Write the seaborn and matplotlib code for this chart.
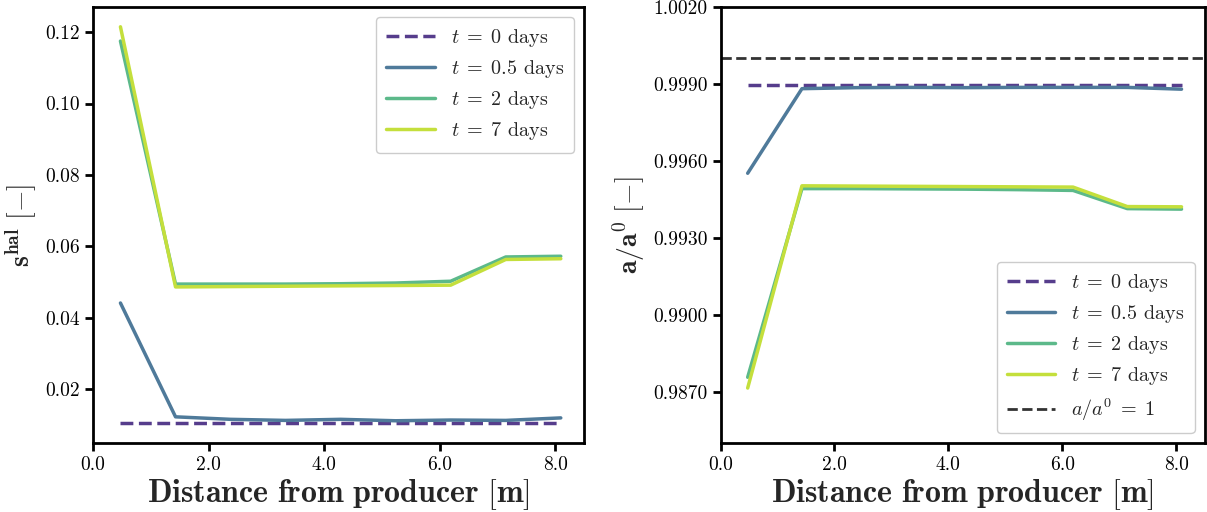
import numpy as np
import pandas as pd
import matplotlib
matplotlib.use("Agg")
import matplotlib.pyplot as plt
import seaborn as sns
from matplotlib.ticker import FormatStrFormatter, FixedLocator

# ---- data ----
distance = [0.476, 1.429, 2.381, 3.333, 4.286, 5.238, 6.190, 7.143, 8.095]
labels = [r"$t\;=\;0$ days", r"$t\;=\;0.5$ days", r"$t\;=\;2$ days", r"$t\;=\;7$ days"]

s_t0 = [0.0105] * 9
s_t05 = [0.0441, 0.0122, 0.0115, 0.0112, 0.0115, 0.0111, 0.0113, 0.0112, 0.0119]
s_t2 = [0.1175, 0.0494, 0.0494, 0.0494, 0.0495, 0.0497, 0.0502, 0.0570, 0.0572]
s_t7 = [0.1215, 0.0486, 0.0487, 0.0488, 0.0489, 0.0490, 0.0491, 0.0563, 0.0565]

a_t0 = [0.99895] * 9
a_t05 = [0.99552, 0.99882, 0.99886, 0.99887, 0.99886, 0.99887, 0.99887, 0.99887, 0.99880]
a_t2 = [0.98756, 0.99492, 0.99492, 0.99491, 0.99490, 0.99488, 0.99485, 0.99414, 0.99412]
a_t7 = [0.98714, 0.99503, 0.99502, 0.99501, 0.99500, 0.99499, 0.99498, 0.99422, 0.99421]
a_ref = 1.0

x_ticks = [0.0, 2.0, 4.0, 6.0, 8.0]
s_ticks = [0.02, 0.04, 0.06, 0.08, 0.10, 0.12]
a_ticks = [0.9870, 0.9900, 0.9930, 0.9960, 0.9990, 1.0020]

colors = ["#563d8c", "#4f7a9a", "#5cb98a", "#c4df3c"]
styles = ["--", "-", "-", "-"]

sns.set_style("ticks")
plt.rcParams.update({
    "font.family": "serif",
    "font.serif": ["cmr10", "DejaVu Serif"],
    "mathtext.fontset": "cm",
    "axes.formatter.use_mathtext": True,
    "axes.unicode_minus": False,
    "axes.edgecolor": "black",
    "axes.linewidth": 2.0,
    "xtick.color": "black",
    "ytick.color": "black",
    "xtick.major.width": 2.0,
    "ytick.major.width": 2.0,
    "xtick.major.size": 6,
    "ytick.major.size": 6,
})

fig = plt.figure(figsize=(12.07, 5.12), dpi=100)
ax1 = fig.add_axes([0.077, 0.135, 0.407, 0.851])
ax2 = fig.add_axes([0.597, 0.135, 0.401, 0.851])

for vals, lab, c, ls in zip([s_t0, s_t05, s_t2, s_t7], labels, colors, styles):
    sns.lineplot(x=distance, y=vals, ax=ax1, color=c, linestyle=ls, linewidth=2.5, label=lab)
for vals, lab, c, ls in zip([a_t0, a_t05, a_t2, a_t7], labels, colors, styles):
    sns.lineplot(x=distance, y=vals, ax=ax2, color=c, linestyle=ls, linewidth=2.5, label=lab)
ax2.axhline(a_ref, color="#333333", linestyle="--", linewidth=2.0, label=r"$a/a^0\;=\;1$")

ax1.set_xlim(0, 8.5)
ax2.set_xlim(0, 8.5)
ax1.set_ylim(0.0049, 0.127)
ax2.set_ylim(0.9850, 1.0020)

for ax in (ax1, ax2):
    ax.xaxis.set_major_locator(FixedLocator(x_ticks))
    ax.xaxis.set_major_formatter(FormatStrFormatter("%.1f"))
    ax.tick_params(labelsize=14)
    ax.set_xlabel(r"$\mathbf{Distance\ from\ producer\ [m]}$", fontsize=23, labelpad=2)
    for sp in ax.spines.values():
        sp.set_visible(True)
        sp.set_linewidth(2.0)

ax1.yaxis.set_major_locator(FixedLocator(s_ticks))
ax1.yaxis.set_major_formatter(FormatStrFormatter("%.2f"))
ax2.yaxis.set_major_locator(FixedLocator(a_ticks))
ax2.yaxis.set_major_formatter(FormatStrFormatter("%.4f"))

ax1.set_ylabel(r"$\mathbf{s}^{\mathbf{hal}}\ [-]$", fontsize=20)
ax2.set_ylabel(r"$\mathbf{a/a^0}\ [-]$", fontsize=20)

leg_kw = dict(fontsize=14.5, handlelength=2.4, frameon=True, fancybox=True,
              edgecolor="#cccccc", framealpha=1.0, borderpad=0.5, labelspacing=0.45)
ax1.legend(loc="upper right", **leg_kw)
ax2.legend(loc="lower right", **leg_kw)

fig.savefig("out.png", dpi=100)
